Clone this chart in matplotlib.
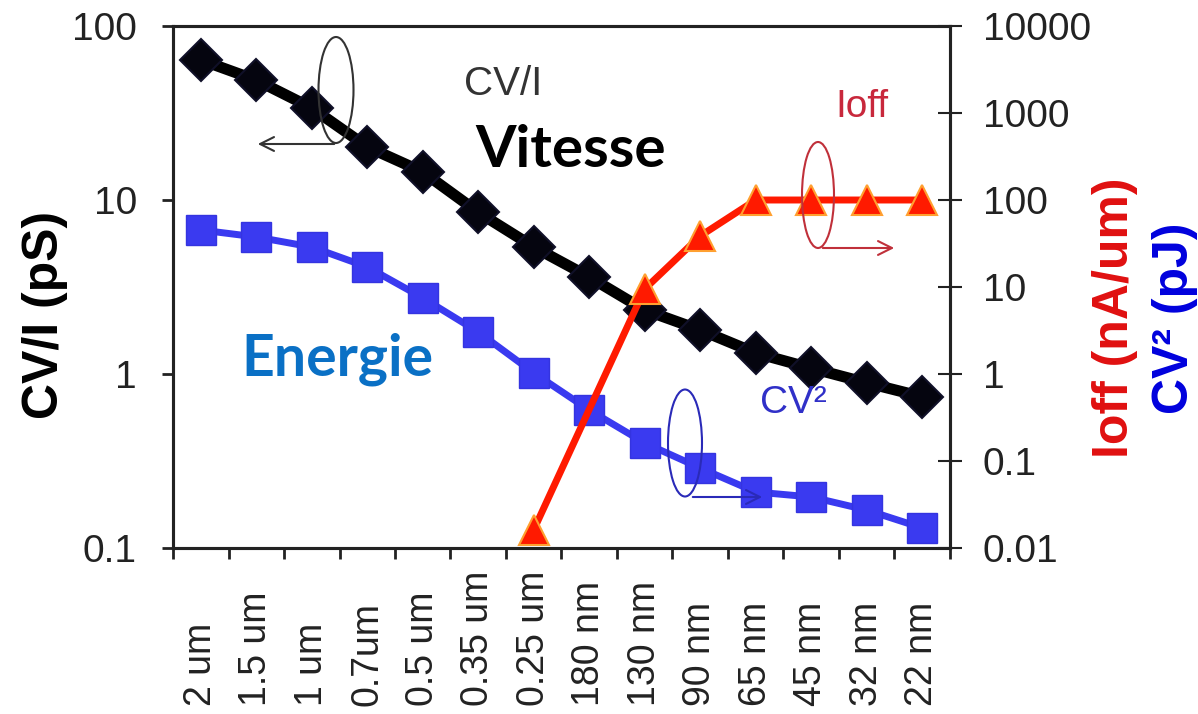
import numpy as np
import matplotlib
matplotlib.use("Agg")
import matplotlib.pyplot as plt
from matplotlib.patches import Ellipse, FancyArrowPatch

# technology nodes (x categories)
nodes = ["2 um", "1.5 um", "1 um", "0.7um", "0.5 um", "0.35 um", "0.25 um",
         "180 nm", "130 nm", "90 nm", "65 nm", "45 nm", "32 nm", "22 nm"]

# CV/I delay (pS), left axis
cv_i = [63.8, 48.9, 33.8, 20.2, 14.5, 8.5, 5.37, 3.61, 2.33, 1.79, 1.32, 1.08, 0.89, 0.74]

# CV^2 energy (pJ), right axis
cv2 = [45.2, 37.6, 28.8, 17.0, 7.5, 3.04, 1.03, 0.385, 0.161, 0.083, 0.044, 0.0386, 0.0273, 0.017]

# Ioff leakage (nA/um), right axis, starts at 0.25 um
ioff_nodes = ["0.25 um", "130 nm", "90 nm", "65 nm", "45 nm", "32 nm", "22 nm"]
ioff = [0.0162, 9.5, 38.6, 100, 100, 100, 100]

left_ticks = [0.1, 1, 10, 100]
right_ticks = [0.01, 0.1, 1, 10, 100, 1000, 10000]

W, H = 1198, 714
def fx(px):
    return px / W
def fy(py):
    return 1 - py / H

plt.rcParams['font.family'] = ['Liberation Sans', 'DejaVu Sans']
fig = plt.figure(figsize=(W / 100, H / 100), dpi=100)
ax = fig.add_axes([fx(173), fy(548), (950 - 173) / W, (548 - 26) / H])
ax2 = ax.twinx()

x = np.arange(len(nodes))
ioff_x = [nodes.index(n) for n in ioff_nodes]

# curves
ax.plot(x, cv_i, color='black', lw=8, marker='D', ms=21,
        mfc='#05050f', mec='#101028', mew=1.5, zorder=3)
ax2.plot(x, cv2, color='#3a3af0', lw=5, marker='s', ms=21,
         mfc='#3a3af0', mec='#3434e0', zorder=3)
ax2.plot(ioff_x, ioff, color='#ff1a00', lw=5, marker='^', ms=21,
         mfc='#ff1a00', mec='#ffa030', mew=1.5, zorder=4)

# scales
ax.set_yscale('log')
ax.set_ylim(0.1, 100)
ax.set_yticks(left_ticks)
ax.set_yticklabels([f"{t:g}" for t in left_ticks])
ax.minorticks_off()
ax2.set_yscale('log')
ax2.set_ylim(0.01, 10000)
ax2.set_yticks(right_ticks)
ax2.set_yticklabels([f"{t:g}" for t in right_ticks])
ax2.minorticks_off()
ax.set_xlim(-0.5, len(nodes) - 0.5)
ax.set_xticks(np.arange(-0.5, len(nodes), 1))
ax.set_xticklabels([])

for a in (ax, ax2):
    for s in a.spines.values():
        s.set_linewidth(2.2)
        s.set_color('#222222')
ax.tick_params(axis='y', direction='out', length=8, width=2, pad=18,
               labelsize=28, colors='#222222')
ax.tick_params(axis='x', direction='out', length=8, width=2, colors='#222222')
ax2.tick_params(axis='y', direction='inout', length=17, width=1.5, pad=15,
                labelsize=28, colors='#222222')

# x labels, bottom aligned, rotated
for i, n in enumerate(nodes):
    ax.text(i, -0.303, n, transform=ax.get_xaxis_transform(), rotation=90,
            ha='center', va='bottom', fontsize=27, color='#222222')

# axis titles
fig.text(fx(45), fy(315), "CV/I (pS)", rotation=90, ha='center', va='center',
         fontsize=36, fontweight='bold', color='black')
fig.text(fx(1115), fy(318), "Ioff (nA/um)", rotation=90, ha='center', va='center',
         fontsize=36, fontweight='bold', color='#e01010')
fig.text(fx(1175), fy(318), "CV² (pJ)", rotation=90, ha='center', va='center',
         fontsize=36, fontweight='bold', color='#0000dd')

# annotations
fig.text(fx(503), fy(84), "CV/I", ha='center', va='center', fontsize=29, color='#333333')
fig.text(fx(862), fy(107), "Ioff", ha='center', va='center', fontsize=28, color='#c8283c')
fig.text(fx(793), fy(403), "CV²", ha='center', va='center', fontsize=28, color='#3030c8')
fig.text(fx(571), fy(167), "Vitesse", ha='center', va='baseline', fontsize=42,
         fontweight='bold', family='Lato', color='black')
fig.text(fx(337), fy(375), "Energie", ha='center', va='baseline', fontsize=41,
         fontweight='bold', family='Lato', color='#0a70c5')

# axis markers: ellipse + arrow
marks = [((336, 90), (35, 106), (337, 144), (255, 144), '#333333'),
         ((818, 195), (32, 106), (820, 248), (897, 248), '#c0303a'),
         ((685, 443), (34, 107), (690, 497), (765, 497), '#2a2ab8')]
for (cx, cy), (ew, eh), p0, p1, col in marks:
    fig.add_artist(Ellipse((fx(cx), fy(cy)), ew / W, eh / H, transform=fig.transFigure,
                           fill=False, lw=1.5, ec=col, zorder=6))
    fig.add_artist(FancyArrowPatch((fx(p0[0]), fy(p0[1])), (fx(p1[0]), fy(p1[1])),
                                   transform=fig.transFigure, arrowstyle='->',
                                   mutation_scale=25, lw=1.5, color=col, zorder=6))

fig.savefig("out.png", dpi=100)
